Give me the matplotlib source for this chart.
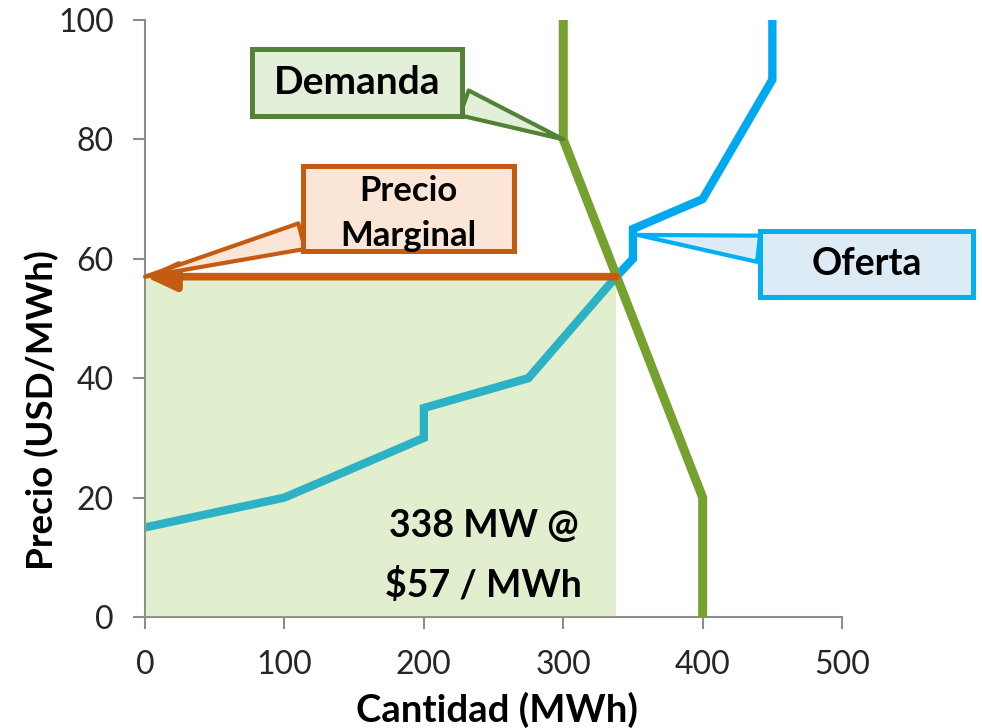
import matplotlib
matplotlib.use("Agg")
import matplotlib.pyplot as plt
from matplotlib.path import Path

plt.rcParams["font.family"] = ["Lato", "DejaVu Sans"]

# Data
oferta_x = [0, 100, 200, 200, 275, 338, 350, 350, 400, 450, 450]
oferta_y = [15, 20, 30, 35, 40, 57, 60, 65, 70, 90, 100]
demanda_x = [300, 300, 400, 400]
demanda_y = [100, 80, 20, 0]
q_eq = 338
p_eq = 57

x_ticks = [0, 100, 200, 300, 400, 500]
y_ticks = [0, 20, 40, 60, 80, 100]

fig = plt.figure(figsize=(9.82, 7.28), dpi=100)
ax = fig.add_axes([0.1477, 0.1525, 0.7098, 0.8201])

# supply curve, then the translucent green area over it
ax.plot(oferta_x, oferta_y, color="#00A9EF", lw=6, solid_joinstyle="miter", zorder=2)
ax.fill_between([0, q_eq], 0, p_eq, color="#9CC85C", alpha=0.29, lw=0, zorder=3)
ax.plot(demanda_x, demanda_y, color="#77A12F", lw=6.5, solid_joinstyle="miter", zorder=4)

# marginal price arrow
ax.annotate("", xy=(0, p_eq), xytext=(q_eq, p_eq),
            arrowprops=dict(arrowstyle="-|>,head_length=0.9,head_width=0.42",
                            color="#C55A11", lw=5.5, shrinkA=0, shrinkB=0,
                            mutation_scale=20),
            zorder=5, annotation_clip=False)

ax.text(243, 15.3, "338 MW @", ha="center", va="center", fontsize=27,
        fontweight="bold", zorder=6)
ax.text(243, 5.3, "$57 / MWh", ha="center", va="center", fontsize=27,
        fontweight="bold", zorder=6)


def rect_box(padx, padb, padt):
    # square box with separate horizontal / bottom / top padding (pixels)
    def box(x0, y0, width, height, mutation_size):
        x1, y1 = x0 - padx, y0 - padb
        x2, y2 = x0 + width + padx, y0 + height + padt
        return Path([(x1, y1), (x2, y1), (x2, y2), (x1, y2), (x1, y1)], closed=True)
    return box


def callout(txt, xy, xytext, edge, face, relpos, size, pads, ls=1.2):
    ax.annotate(txt, xy=xy, xytext=xytext, ha="center", va="center",
                fontsize=size, fontweight="bold", multialignment="center",
                linespacing=ls,
                bbox=dict(boxstyle=rect_box(*pads), fc=face, ec=edge, lw=3.6),
                arrowprops=dict(arrowstyle="wedge,tail_width=0.95,shrink_factor=0.5",
                                fc=face, ec=edge, lw=3, relpos=relpos,
                                shrinkA=0, shrinkB=0, mutation_scale=20),
                zorder=7, annotation_clip=False)


callout("Demanda", (300, 80), (152.1, 89.6), "#538135", "#E2EFD9", (0.9, 0.33),
        28, (22, 16, 16))
callout("Precio\nMarginal", (0, 57), (189.0, 67.6), "#C55A11", "#FBE5D6", (0.1, 0.38),
        25, (37, -1, 9), ls=1.5)
callout("Oferta", (353, 64), (517.6, 59.2), "#00B0F0", "#DDEBF7", (0.1, 0.72),
        27, (51, 16, 16))

ax.set_xlim(0, 500)
ax.set_ylim(0, 100)
ax.set_xticks(x_ticks)
ax.set_yticks(y_ticks)
for s in ["top", "right"]:
    ax.spines[s].set_visible(False)
for s in ["left", "bottom"]:
    ax.spines[s].set_color("#8C8C8C")
    ax.spines[s].set_linewidth(1.5)
ax.tick_params(direction="out", length=8.5, width=1.5, color="#8C8C8C",
               labelsize=23, labelcolor="#262626")
ax.tick_params(axis="y", pad=14)
ax.tick_params(axis="x", pad=15)

fig.text(53 / 982, 1 - 410 / 728, "Precio (USD/MWh)", rotation=90,
         rotation_mode="anchor", ha="center", va="baseline", fontsize=26.5,
         fontweight="bold")
fig.text(497 / 982, 6 / 728, "Cantidad (MWh)", ha="center", va="baseline",
         fontsize=27.5, fontweight="bold")

fig.savefig("out.png", dpi=100)
